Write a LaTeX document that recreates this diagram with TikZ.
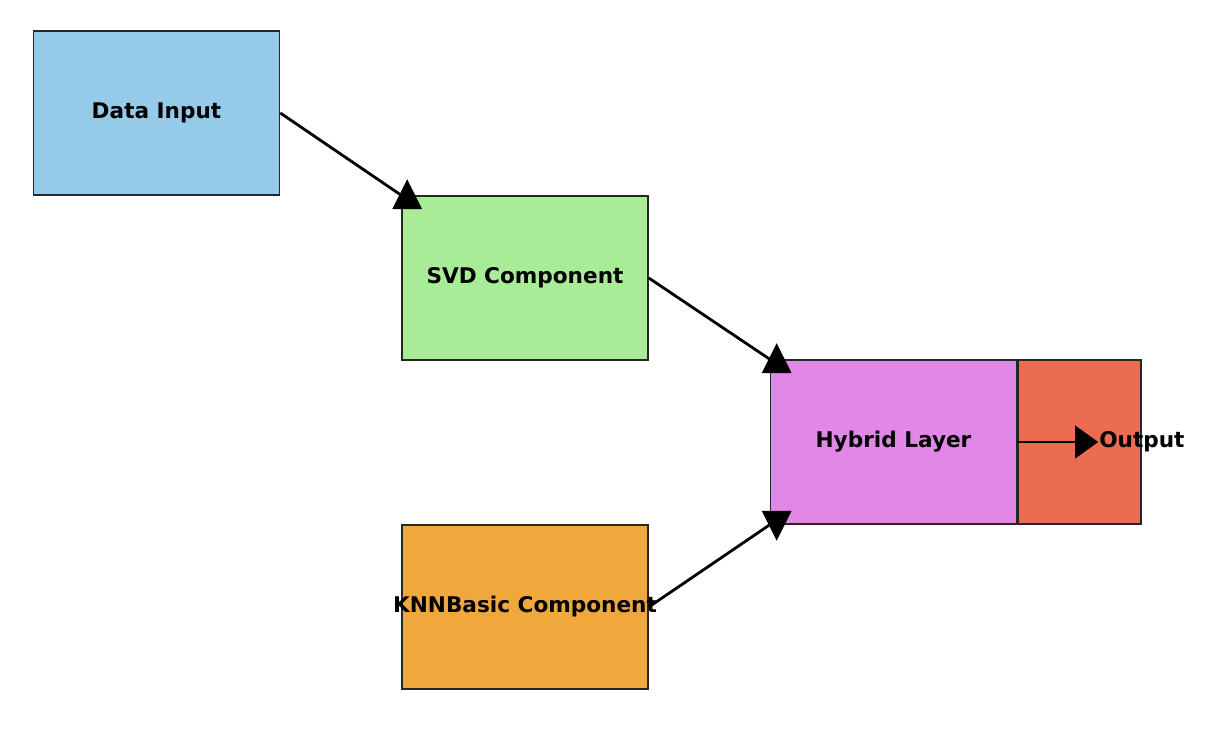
\documentclass[tikz,border=0pt]{standalone}
\usepackage{fontspec}
\setmainfont{DejaVu Sans}
\usetikzlibrary{positioning}
\definecolor{inblue}{HTML}{95CBE8}
\definecolor{svdgreen}{HTML}{A8EC98}
\definecolor{knnorange}{HTML}{F0A83C}
\definecolor{hybviolet}{HTML}{E087E8}
\definecolor{outred}{HTML}{EC6C52}
\tikzset{
    block/.style={draw=black!85, line width=0.8pt, inner sep=0pt,
        minimum width=123pt, minimum height=82pt,
        font=\fontsize{10.8}{13}\selectfont\bfseries},
    link/.style={line width=1.4pt},
}
\begin{document}
\begin{tikzpicture}[x=0.5pt, y=-0.5pt]
            \useasboundingbox (0, 0) rectangle (1212, 756);
            \node[block, fill=inblue] (input) at (156.5, 113) {Data Input};
            \node[block, fill=svdgreen] (svd) at (525, 278) {SVD Component};
            \node[block, fill=knnorange] (knn) at (525, 607) {\makebox[0pt]{KNNBasic Component}};
            \node[block, fill=hybviolet] (hybrid) at (893.5, 442) {Hybrid Layer};
            \node[block, fill=outred, minimum width=61.5pt, right=0pt of hybrid] (output) {};
            \node[font=\fontsize{10.8}{13}\selectfont\bfseries] (outlabel) at (output.east) {Output};
            % connectors
            \draw[link] (input.east) -- (svd.north west);
            \draw[link] (svd.east) -- (hybrid.north west);
            \draw[link] (knn.east) -- (hybrid.south west);
            \draw[link] (hybrid.east) -- ([xshift=-6pt]outlabel.west);
            % heads
            \fill ([xshift=3pt]svd.north west) +(0, -16) -- +(15, 14) -- +(-15, 14) -- cycle;
            \fill ([xshift=3.5pt]hybrid.north west) +(0, -16) -- +(15, 14) -- +(-15, 14) -- cycle;
            \fill ([xshift=3.5pt]hybrid.south west) +(0, 16) -- +(15, -14) -- +(-15, -14) -- cycle;
            \fill ([xshift=-2.5pt]outlabel.west) +(11, 0) -- +(-12, -16.5) -- +(-12, 16.5) -- cycle;
        \end{tikzpicture}
\end{document}
